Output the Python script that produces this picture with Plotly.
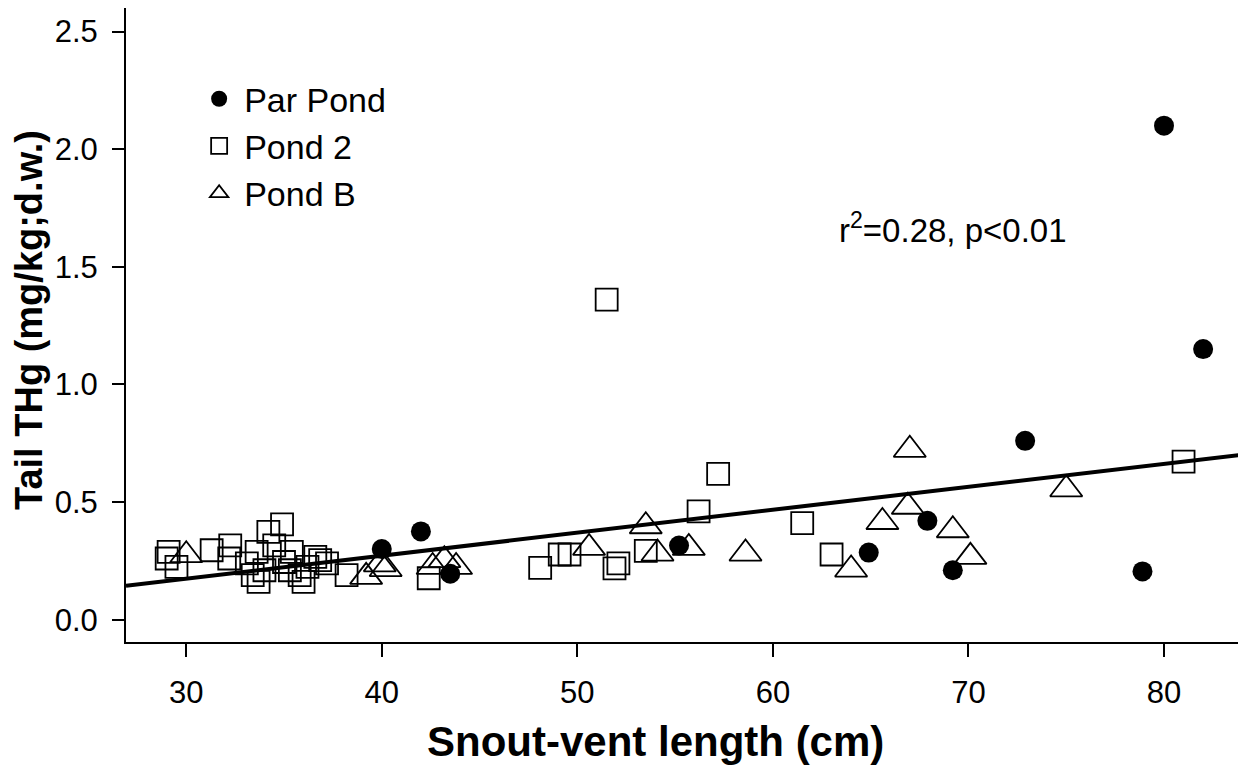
import plotly.graph_objects as go

# Par Pond (filled circles)
par_x = [40.0, 42.0, 43.5, 55.2, 64.9, 67.9, 69.2, 72.9, 78.9, 80.0, 82.0]
par_y = [0.30, 0.375, 0.195, 0.315, 0.285, 0.42, 0.21, 0.76, 0.205, 2.10, 1.15]

# Pond 2 (open squares)
p2_x = [29.1, 29.0, 29.5, 31.3, 32.25, 32.2, 33.1, 33.4, 33.6, 33.7, 34.0, 34.2,
        34.5, 34.9, 35.0, 35.3, 35.4, 35.8, 36.0, 36.2, 36.6, 36.85, 37.2, 38.2,
        42.4, 48.1, 49.1, 49.6, 51.5, 51.9, 52.1, 53.5, 56.2, 57.2, 61.5, 63.0, 81.0]
p2_y = [0.288, 0.26, 0.224, 0.295, 0.316, 0.26, 0.239, 0.189, 0.288, 0.161, 0.21, 0.373,
        0.316, 0.405, 0.245, 0.21, 0.288, 0.189, 0.161, 0.224, 0.267, 0.253, 0.239, 0.189,
        0.176, 0.22, 0.277, 0.277, 1.36, 0.218, 0.239, 0.292, 0.46, 0.62, 0.41, 0.277, 0.672]

# Pond B (open triangles)
pb_x = [30.0, 39.2, 39.9, 40.2, 42.6, 43.2, 43.8, 50.6, 53.5, 54.1, 55.7, 58.6,
        64.0, 65.6, 66.9, 67.0, 69.2, 70.1, 75.0]
pb_y = [0.274, 0.182, 0.235, 0.215, 0.224, 0.253, 0.224, 0.305, 0.397, 0.281, 0.305, 0.281,
        0.213, 0.415, 0.48, 0.722, 0.38, 0.267, 0.554]

# regression line
fit_intercept = -0.118
fit_slope = 0.00975

x_range = [26.92, 84.04]
y_range = [-0.095, 2.6]

font = "Arial, Liberation Sans, sans-serif"

fig = go.Figure()

fit_x = x_range
fit_y = [fit_intercept + fit_slope * v for v in fit_x]
fig.add_trace(go.Scatter(x=fit_x, y=fit_y, mode="lines",
                         line=dict(color="black", width=4), showlegend=False))

fig.add_trace(go.Scatter(x=par_x, y=par_y, mode="markers", name="Par Pond",
                         marker=dict(symbol="circle", size=20, color="black",
                                     line=dict(width=0))))
fig.add_trace(go.Scatter(x=p2_x, y=p2_y, mode="markers", name="Pond 2",
                         marker=dict(symbol="square-open", size=22, color="black",
                                     line=dict(width=1.8, color="black"))))
fig.add_trace(go.Scatter(x=pb_x, y=pb_y, mode="markers", name="Pond B",
                         marker=dict(symbol="triangle-up-open", size=28, color="black",
                                     line=dict(width=1.8, color="black"))))

fig.add_annotation(x=0.7404, y=0.653, xref="paper", yref="paper",
                   xanchor="center", yanchor="middle",
                   text="r<sup>2</sup>=0.28, p&lt;0.01", showarrow=False,
                   font=dict(family=font, size=33, color="black"))

fig.add_annotation(x=0.4736, y=-0.157, xref="paper", yref="paper",
                   xanchor="center", yanchor="middle",
                   text="<b>Snout-vent length (cm)</b>", showarrow=False,
                   font=dict(family=font, size=42, color="black"))
fig.add_annotation(x=-0.0868, y=0.508, xref="paper", yref="paper", textangle=-90,
                   xanchor="center", yanchor="middle",
                   text="<b>Tail THg (mg/kg;d.w.)</b>", showarrow=False,
                   font=dict(family=font, size=38, color="black"))

fig.update_layout(
    width=1238, height=760,
    margin=dict(l=118, r=3, t=0, b=126),
    plot_bgcolor="white", paper_bgcolor="white",
    xaxis=dict(range=x_range, tickvals=[30, 40, 50, 60, 70, 80],
               showline=True, linecolor="black", linewidth=2,
               ticks="outside", ticklen=13, tickwidth=1.5, tickcolor="black",
               ticklabelstandoff=9,
               showgrid=False, zeroline=False,
               tickfont=dict(family=font, size=31, color="black")),
    yaxis=dict(range=y_range, tickvals=[0, 0.5, 1.0, 1.5, 2.0, 2.5],
               ticktext=["0.0", "0.5", "1.0", "1.5", "2.0", "2.5"],
               showline=True, linecolor="black", linewidth=2,
               ticks="outside", ticklen=12, tickwidth=1.5, tickcolor="black",
               ticklabelstandoff=8,
               showgrid=False, zeroline=False,
               tickfont=dict(family=font, size=31, color="black")),
    legend=dict(x=0.061, y=0.902, xanchor="left", yanchor="top",
                bgcolor="rgba(0,0,0,0)", font=dict(family=font, size=34, color="black"),
                tracegroupgap=0, itemsizing="trace", itemwidth=40),
)

fig.write_html("out.html")
